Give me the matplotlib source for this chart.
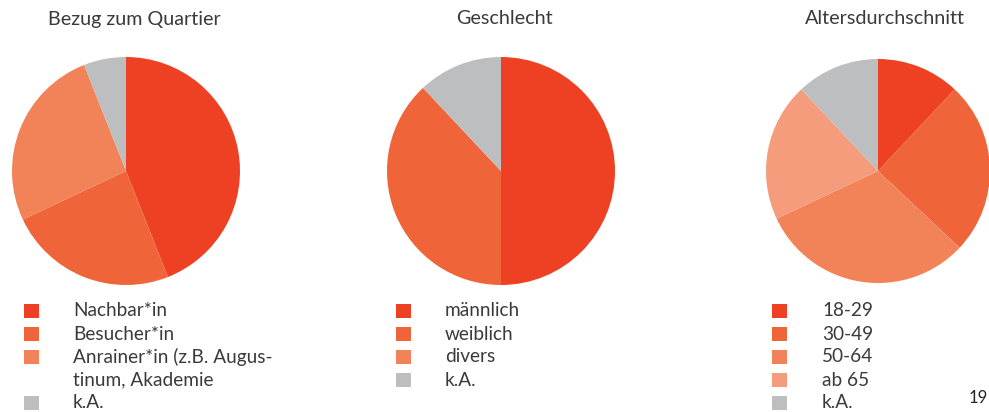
import matplotlib.pyplot as plt
from matplotlib.patches import Rectangle

plt.rcParams['font.family'] = ['Lato', 'DejaVu Sans']

# data (percent)
bezug_labels = ['Nachbar*in', 'Besucher*in', 'Anrainer*in (z.B. Augus-\ntinum, Akademie', 'k.A.']
bezug_values = [44, 24, 26, 6]

geschlecht_labels = ['männlich', 'weiblich', 'divers', 'k.A.']
geschlecht_values = [50, 38, 0, 12]

alter_labels = ['18-29', '30-49', '50-64', 'ab 65', 'k.A.']
alter_values = [12, 25, 31, 20, 12]

titles = ['Bezug zum Quartier', 'Geschlecht', 'Altersdurchschnitt']

reds = ['#EE4124', '#F0643A', '#F28257', '#F59C7D']
gray = '#BCBEC0'
text_col = '#3a3a3a'

W, H = 989, 412
fig = plt.figure(figsize=(W / 100, H / 100), dpi=100)
fig.patch.set_facecolor('white')


def px_axes(cx, cy, r):
    return fig.add_axes([(cx - r) / W, 1 - (cy + r) / H, 2 * r / W, 2 * r / H])


def draw_pie(cx, cy, r, values, colors, title, title_x):
    ax = px_axes(cx, cy, r)
    ax.pie(values, colors=colors, startangle=90, counterclock=False,
           radius=1, wedgeprops=dict(linewidth=0))
    ax.set_xlim(-1, 1)
    ax.set_ylim(-1, 1)
    ax.set_aspect('equal')
    ax.axis('off')
    fig.text(title_x / W, 1 - 19 / H, title, ha='center', va='center',
             fontsize=14.2, color=text_col)


def draw_legend(sq_x, txt_x, labels, colors, y0=311, step=23):
    row = 0
    for lab, col in zip(labels, colors):
        y = y0 + row * step
        fig.patches.append(Rectangle((sq_x / W, 1 - (y + 7) / H), 15 / W, 14 / H,
                                     transform=fig.transFigure, facecolor=col,
                                     edgecolor='none'))
        lines = lab.split('\n')
        for k, line in enumerate(lines):
            fig.text(txt_x / W, 1 - (y + k * step) / H, line, ha='left',
                     va='center', fontsize=13.7, color=text_col)
        row += len(lines)


draw_pie(126, 171, 114, bezug_values, reds[:3] + [gray], titles[0], 134)
draw_pie(501, 171, 114, geschlecht_values, reds[:3] + [gray], titles[1], 504)
draw_pie(878, 171, 112, alter_values, reds + [gray], titles[2], 885)

draw_legend(24, 73, bezug_labels, reds[:3] + [gray])
draw_legend(396, 445, geschlecht_labels, reds[:3] + [gray])
draw_legend(772, 822, alter_labels, reds + [gray])

fig.text(978 / W, 1 - 398 / H, '19', ha='center', va='center',
         fontsize=12, color='#222222')

fig.savefig('out.png', dpi=100)
